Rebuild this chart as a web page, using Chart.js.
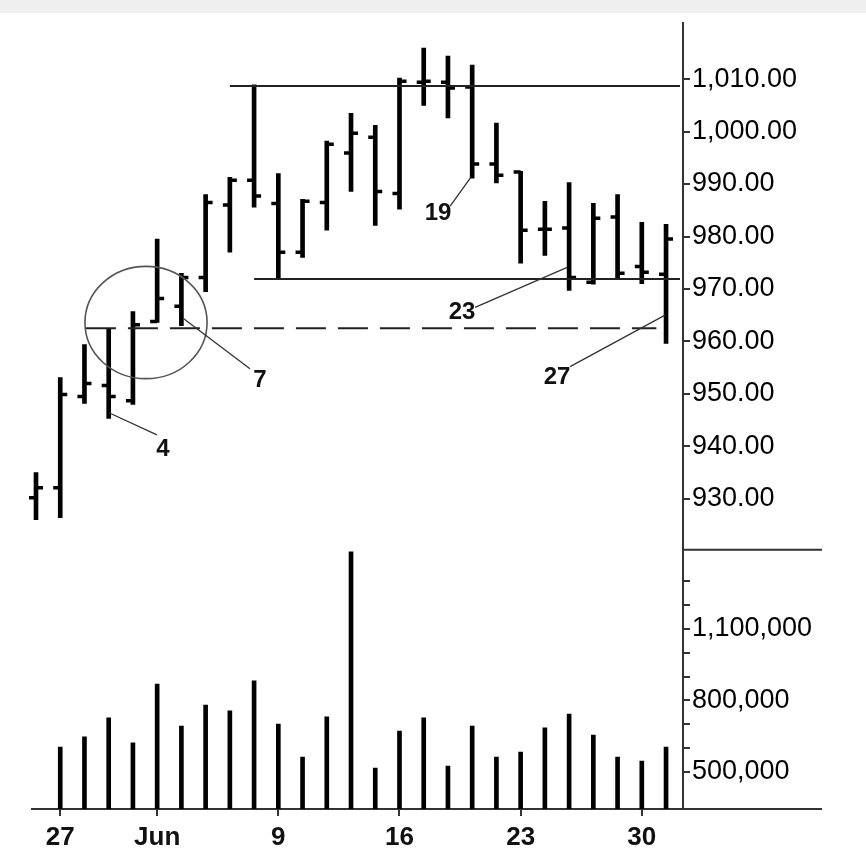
<!DOCTYPE html>
<html>
<head>
<meta charset="utf-8">
<script src="https://cdn.jsdelivr.net/npm/chart.js@4.4.1/dist/chart.umd.min.js"></script>
<style>
  body { margin: 0; background: #fff; }
  #wrap { width: 866px; height: 862px; position: relative; }
</style>
</head>
<body>
<div id="wrap"><canvas id="chart"></canvas></div>
<script>
// Datos (barras diarias, 23 may - 1 jul)
const opens  = [930.2, 932.1, 949.5, 951.6, 948.7, 963.8, 966.7, 972.2, 986.0, 990.7, 986.3, 977.0, 986.5, 995.9, 998.9, 988.2, 1009.4, 1009.4, 1008.5, 993.8, 992.3, 981.4, 981.6, 971.3, 983.7, 974.3, 972.8];
const highs  = [935.0, 953.1, 959.4, 962.3, 965.7, 979.5, 973.0, 988.0, 991.3, 1008.9, 992.0, 987.1, 998.2, 1003.5, 1001.2, 1010.2, 1015.9, 1014.4, 1012.7, 1001.6, 992.4, 986.7, 990.3, 986.3, 988.0, 982.7, 982.3];
const lows   = [926.0, 926.4, 948.2, 945.3, 948.0, 963.6, 963.0, 969.5, 977.0, 985.6, 971.8, 976.0, 981.2, 988.6, 982.1, 985.2, 1005.0, 1002.6, 991.1, 990.2, 974.9, 976.4, 969.7, 970.9, 971.8, 971.0, 959.6];
const closes = [932.1, 949.9, 952.0, 949.5, 963.2, 968.2, 972.2, 986.5, 990.7, 987.7, 977.0, 986.7, 997.6, 999.7, 988.6, 1009.6, 1009.6, 1008.3, 993.8, 991.7, 981.2, 981.4, 972.2, 983.5, 973.0, 973.2, 979.5];
const volumes = [null, 605000, 647000, 727000, 622000, 869000, 693000, 781000, 756000, 882000, 701000, 563000, 731000, 1423000, 517000, 672000, 727000, 525000, 693000, 563000, 584000, 685000, 743000, 655000, 563000, 546000, 605000];

// Etiquetas del eje de fechas
const dateTickIndex = [1, 5, 10, 15, 20, 25];
const dateTickLabels = ['27', 'Jun', '9', '16', '23', '30'];

// Ticks de los ejes
const priceTicks = [930, 940, 950, 960, 970, 980, 990, 1000, 1010];
const volumeTicks = [500000, 600000, 700000, 800000, 900000, 1000000, 1100000, 1200000, 1300000];
const volumeLabels = [500000, 800000, 1100000];

// Líneas y notas dibujadas sobre el gráfico
const resistance = { from: 8, price: 1008.7 };
const support = { from: 9, price: 971.9 };
const dashedLevel = { from: 2.06, to: 25.6, price: 962.5 };
const circleMark = { x: 4.54, price: 963.6, rx: 2.52, ry: 10.7 };
const notes = [
  { text: '4',  from: [3.01, 946.4],  to: [4.99, 942.2],  at: [5.24, 939.4] },
  { text: '7',  from: [6.07, 964.4],  to: [8.83, 954.8],  at: [9.24, 952.6] },
  { text: '19', from: [17.95, 991.3], to: [17.09, 985.8], at: [16.59, 984.4] },
  { text: '23', from: [21.92, 974.1], to: [18.12, 966.5], at: [17.58, 965.5] },
  { text: '27', from: [25.96, 965.0], to: [22.04, 955.2], at: [21.5, 953.1] }
];

const FONT = '"Liberation Sans", Arial, sans-serif';
const INK = '#111';

// Ticks de apertura (izquierda) y cierre (derecha)
const ohlcTicks = {
  id: 'ohlcTicks',
  afterDatasetsDraw(chart) {
    const { ctx, scales: { x, y } } = chart;
    ctx.save();
    ctx.strokeStyle = '#000';
    ctx.lineWidth = 3.5;
    opens.forEach((o, i) => {
      const px = x.getPixelForValue(i);
      const yo = y.getPixelForValue(o);
      const yc = y.getPixelForValue(closes[i]);
      ctx.beginPath();
      ctx.moveTo(px - 7, yo);
      ctx.lineTo(px, yo);
      ctx.moveTo(px, yc);
      ctx.lineTo(px + 7, yc);
      ctx.stroke();
    });
    ctx.restore();
  }
};

// Fondo, separadores y anotaciones
const decorations = {
  id: 'decorations',
  beforeDraw(chart) {
    const { ctx, width } = chart;
    ctx.save();
    ctx.fillStyle = '#fff';
    ctx.fillRect(0, 0, width, chart.height);
    ctx.fillStyle = '#efefef';
    ctx.fillRect(0, 0, width, 13);
    ctx.restore();
  },
  afterDraw(chart) {
    const { ctx, chartArea, scales: { x, y, y2 } } = chart;
    ctx.save();
    // separadores a la derecha del eje
    ctx.strokeStyle = '#333';
    ctx.lineWidth = 2;
    ctx.beginPath();
    ctx.moveTo(chartArea.right, y2.top);
    ctx.lineTo(822, y2.top);
    ctx.moveTo(chartArea.right, chartArea.bottom);
    ctx.lineTo(822, chartArea.bottom);
    ctx.stroke();

    // soporte y resistencia
    ctx.strokeStyle = '#222';
    ctx.lineWidth = 2;
    ctx.beginPath();
    ctx.moveTo(x.getPixelForValue(resistance.from), y.getPixelForValue(resistance.price));
    ctx.lineTo(chartArea.right - 3, y.getPixelForValue(resistance.price));
    ctx.moveTo(x.getPixelForValue(support.from), y.getPixelForValue(support.price));
    ctx.lineTo(chartArea.right - 3, y.getPixelForValue(support.price));
    ctx.stroke();

    // linea discontinua
    ctx.setLineDash([30, 12]);
    ctx.beginPath();
    ctx.moveTo(x.getPixelForValue(dashedLevel.from), y.getPixelForValue(dashedLevel.price));
    ctx.lineTo(x.getPixelForValue(dashedLevel.to), y.getPixelForValue(dashedLevel.price));
    ctx.stroke();
    ctx.setLineDash([]);

    // circulo
    const cx = x.getPixelForValue(circleMark.x);
    const cy = y.getPixelForValue(circleMark.price);
    const rx = x.getPixelForValue(circleMark.x + circleMark.rx) - cx;
    const ry = cy - y.getPixelForValue(circleMark.price + circleMark.ry);
    ctx.strokeStyle = '#555';
    ctx.lineWidth = 1.6;
    ctx.beginPath();
    ctx.ellipse(cx, cy, rx, ry, 0, 0, Math.PI * 2);
    ctx.stroke();

    // notas numeradas
    ctx.strokeStyle = '#333';
    ctx.lineWidth = 1.3;
    ctx.fillStyle = INK;
    ctx.font = 'bold 24px ' + FONT;
    ctx.textAlign = 'center';
    ctx.textBaseline = 'middle';
    notes.forEach(n => {
      ctx.beginPath();
      ctx.moveTo(x.getPixelForValue(n.from[0]), y.getPixelForValue(n.from[1]));
      ctx.lineTo(x.getPixelForValue(n.to[0]), y.getPixelForValue(n.to[1]));
      ctx.stroke();
      ctx.fillText(n.text, x.getPixelForValue(n.at[0]), y.getPixelForValue(n.at[1]));
    });
    ctx.restore();
  }
};

const volumeMin = 345000;

new Chart(document.getElementById('chart'), {
  type: 'bar',
  data: {
    datasets: [
      {
        label: 'Price',
        data: highs.map((h, i) => ({ x: i, y: [lows[i], h] })),
        yAxisID: 'y',
        backgroundColor: '#000',
        barThickness: 4,
        grouped: false
      },
      {
        label: 'Volume',
        data: volumes.map((v, i) => ({ x: i, y: v })),
        yAxisID: 'y2',
        backgroundColor: '#000',
        barThickness: 4,
        grouped: false,
        base: volumeMin
      }
    ]
  },
  options: {
    responsive: true,
    maintainAspectRatio: false,
    animation: false,
    layout: { padding: { left: 32, top: 23, right: 0, bottom: 0 } },
    plugins: { legend: { display: false }, tooltip: { enabled: false } },
    scales: {
      x: {
        type: 'linear',
        offset: false,
        min: -0.165,
        max: 26.7,
        afterBuildTicks: s => { s.ticks = dateTickIndex.map(v => ({ value: v })); },
        afterFit: s => { s.height = 53; },
        grid: { offset: false, drawOnChartArea: false, tickLength: 7, color: '#333', lineWidth: 2 },
        border: { display: true, color: '#333', width: 2 },
        ticks: {
          autoSkip: false,
          maxRotation: 0,
          padding: 6,
          color: INK,
          font: { family: FONT, size: 26, weight: 'bold' },
          callback: v => dateTickLabels[dateTickIndex.indexOf(v)]
        }
      },
      y: {
        position: 'right',
        stack: 'panels',
        stackWeight: 526,
        min: 920.3,
        max: 1020.7,
        afterBuildTicks: s => { s.ticks = priceTicks.map(v => ({ value: v })); },
        afterFit: s => { s.width = 183; },
        grid: { drawOnChartArea: false, tickLength: 7, color: '#333', lineWidth: 2 },
        border: { display: true, color: '#333', width: 2 },
        ticks: {
          autoSkip: false,
          padding: 2,
          color: '#000',
          font: { family: FONT, size: 27 },
          callback: v => v.toLocaleString('en-US', { minimumFractionDigits: 2, maximumFractionDigits: 2 })
        }
      },
      y2: {
        position: 'right',
        stack: 'panels',
        stackWeight: 259,
        min: volumeMin,
        max: 1432000,
        afterBuildTicks: s => { s.ticks = volumeTicks.map(v => ({ value: v })); },
        afterFit: s => { s.width = 183; },
        grid: { drawOnChartArea: false, tickLength: 7, color: '#333', lineWidth: 2 },
        border: { display: true, color: '#333', width: 2 },
        ticks: {
          autoSkip: false,
          padding: 2,
          color: '#000',
          font: { family: FONT, size: 27 },
          callback: v => volumeLabels.includes(v) ? v.toLocaleString('en-US') : ''
        }
      }
    }
  },
  plugins: [ohlcTicks, decorations]
});
</script>
</body>
</html>
